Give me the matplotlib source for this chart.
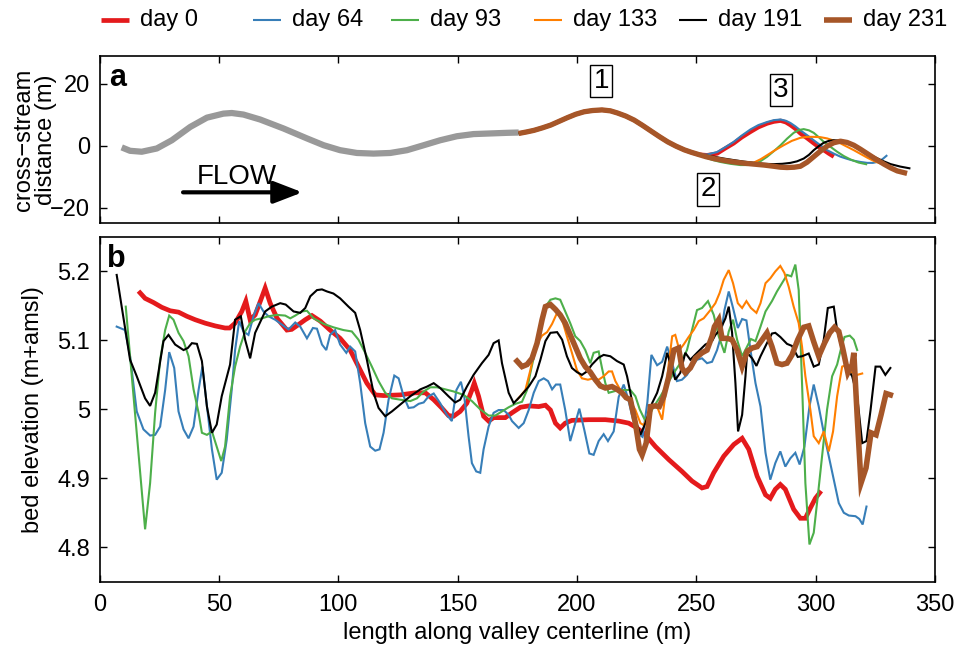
import matplotlib
matplotlib.use("Agg")
import matplotlib.pyplot as plt
from matplotlib.lines import Line2D
from matplotlib.ticker import FuncFormatter

plt.rcParams["font.family"] = ["Liberation Sans", "DejaVu Sans"]

# ---------------------------------------------------------------- data
days = ["day 0", "day 64", "day 93", "day 133", "day 191", "day 231"]
colors = ["#e41a1c", "#377eb8", "#4daf4a", "#ff7f00", "#000000", "#a65628"]

# planform (x along valley, cross-stream offset), upstream reach (unchanged)
upstream_plan = [(9.3, -0.5), (12.8, -1.6), (17.7, -1.9), (24.0, -0.85), (30.3, 1.8),
                 (38.0, 6.1), (45.0, 9.1), (51.9, 10.4), (55.4, 10.6), (60.3, 10.1),
                 (67.3, 8.5), (77.1, 5.6), (86.9, 2.4), (93.9, 0.2), (100.8, -1.4),
                 (107.8, -2.3), (114.8, -2.5), (121.8, -2.3), (128.8, -1.4), (135.8, 0.2),
                 (142.7, 1.8), (149.7, 3.1), (156.7, 3.8), (163.7, 4.0), (170.7, 4.2),
                 (175.6, 4.3)]

# reach shared by all surveys (bend 1)
shared_plan = [(175.6, 4.0), (179.0, 4.5), (182.0, 5.0), (185.5, 5.8), (189.0, 6.7),
               (192.5, 7.9), (196.0, 9.1), (199.5, 10.2), (203.0, 11.0), (206.5, 11.4),
               (210.5, 11.6), (214.0, 11.3), (217.0, 10.6), (220.5, 9.6), (224.0, 8.3),
               (227.5, 6.6), (231.0, 4.8), (234.5, 3.0), (238.0, 1.3), (241.5, -0.1),
               (245.0, -1.3), (248.0, -2.1), (251.0, -2.8)]

plan_day0 = [(254.5, -3.0), (258.7, -2.5), (262.0, -0.9), (265.7, 0.8), (269.0, 2.7),
             (272.7, 4.5), (276.0, 6.0), (279.7, 7.2), (282.5, 7.8), (285.3, 8.1),
             (287.5, 7.6), (289.4, 6.7), (291.5, 5.5), (293.6, 4.0), (296.5, 2.4),
             (299.2, 0.8), (301.5, -0.5), (303.4, -1.4), (305.5, -2.5), (307.6, -3.5)]
plan_day64 = [(254.5, -2.8), (258.7, -2.0), (262.0, -0.5), (265.7, 1.3), (269.0, 3.3),
              (272.7, 5.3), (276.0, 6.7), (279.7, 7.7), (282.5, 8.3), (285.3, 8.5),
              (287.5, 8.1), (289.4, 7.4), (291.5, 6.3), (293.6, 5.0), (296.5, 3.4),
              (299.2, 1.8), (302.0, 0.2), (304.8, -1.4), (307.6, -2.5), (310.4, -3.5),
              (313.2, -4.2), (316.0, -4.8), (318.8, -5.2), (321.6, -5.5), (324.0, -5.5),
              (325.8, -5.2), (328.0, -4.3), (330.0, -3.0)]
plan_day93 = [(254.0, -3.8), (257.0, -4.6), (260.1, -5.2), (264.3, -5.8), (268.5, -6.2),
              (271.3, -6.2), (274.1, -5.9), (277.0, -4.9), (279.7, -3.5), (282.5, -1.7),
              (285.3, 0.2), (288.0, 2.3), (290.8, 4.2), (293.0, 5.1), (295.0, 5.4),
              (297.2, 5.0), (299.2, 4.2), (301.3, 2.8), (303.4, 1.3), (306.2, -0.3),
              (309.0, -1.9), (311.8, -3.3), (314.6, -4.4), (318.0, -5.4), (321.6, -6.0)]
plan_day133 = [(254.0, -3.6), (258.0, -4.4), (262.0, -5.0), (266.0, -5.4), (270.0, -5.7),
               (274.1, -5.4), (277.0, -4.3), (279.7, -3.0), (283.0, -1.4), (286.6, 0.2),
               (290.0, 1.6), (293.6, 2.6), (296.4, 2.9), (299.2, 2.9), (302.0, 2.8),
               (304.8, 2.4), (307.6, 1.7), (310.4, 0.8), (313.2, -0.3), (316.0, -1.4),
               (318.8, -2.6), (321.6, -3.8), (324.4, -4.9), (327.2, -5.7)]
plan_day191 = [(253.5, -3.1), (257.3, -3.5), (261.5, -4.1), (265.7, -4.6), (270.0, -5.1),
               (274.1, -5.5), (278.3, -5.8), (282.5, -5.9), (286.0, -5.8), (289.4, -5.5),
               (292.2, -5.0), (295.0, -4.1), (297.2, -2.9), (299.2, -1.4), (301.3, -0.1),
               (303.4, 1.0), (305.5, 1.6), (307.6, 1.8), (310.4, 1.7), (313.2, 1.0),
               (316.0, 0.0), (318.8, -1.2), (321.6, -2.4), (324.4, -3.5), (327.9, -4.8),
               (331.4, -5.9), (335.5, -6.7), (339.7, -7.3)]
plan_day231 = [(254.0, -3.5), (257.3, -4.1), (261.5, -4.7), (265.7, -5.2), (270.0, -5.6),
               (274.1, -5.9), (278.3, -6.2), (282.5, -6.6), (285.3, -6.9), (288.0, -7.0),
               (291.0, -6.9), (293.6, -6.6), (296.4, -5.3), (299.2, -3.5), (302.0, -1.7),
               (304.8, -0.1), (307.6, 1.0), (310.4, 1.5), (313.2, 1.1), (316.0, 0.2),
               (318.8, -1.1), (321.6, -2.5), (325.0, -4.2), (328.6, -5.9), (331.4, -7.1),
               (334.2, -8.1), (338.3, -8.9)]

# bed elevation profiles (x along valley, elevation m+amsl)
bed_day0 = [(17.0, 5.169), (19.1, 5.161), (22.6, 5.155), (26.1, 5.148), (29.6, 5.143),
            (33.1, 5.141), (36.6, 5.135), (40.1, 5.130), (44.3, 5.125), (48.5, 5.121),
            (52.6, 5.118), (54.5, 5.118), (56.8, 5.125), (59.6, 5.142), (61.3, 5.157),
            (63.1, 5.130), (65.2, 5.137), (67.6, 5.159), (69.4, 5.176), (71.5, 5.154),
            (74.4, 5.132), (78.5, 5.115), (80.5, 5.116), (83.4, 5.123), (86.2, 5.130),
            (89.0, 5.136), (92.5, 5.128), (96.6, 5.115), (100.8, 5.103), (105.0, 5.086),
            (108.5, 5.062), (112.0, 5.038), (115.5, 5.021), (119.0, 5.020), (126.0, 5.021),
            (132.3, 5.024), (136.5, 5.024), (140.0, 5.014), (143.4, 5.002), (146.2, 4.991),
            (148.3, 4.990), (151.1, 4.997), (153.9, 5.009), (156.0, 5.028), (157.0, 5.038),
            (158.8, 5.019), (160.9, 4.990), (163.0, 4.983), (165.1, 4.988), (167.9, 4.988),
            (170.0, 4.988), (172.8, 4.995), (176.3, 5.003), (179.8, 5.005), (184.0, 5.004),
            (186.8, 5.006), (188.9, 4.999), (191.0, 4.980), (193.0, 4.973), (195.1, 4.980),
            (197.9, 4.984), (204.9, 4.985), (211.9, 4.985), (217.5, 4.983), (221.7, 4.980),
            (225.2, 4.973), (228.7, 4.963), (232.9, 4.946), (238.5, 4.927), (244.0, 4.910),
            (248.2, 4.896), (252.4, 4.886), (254.5, 4.888), (257.3, 4.908), (261.5, 4.932),
            (265.7, 4.949), (269.2, 4.958), (272.0, 4.942), (275.5, 4.903), (279.0, 4.876),
            (281.0, 4.871), (283.1, 4.884), (285.2, 4.891), (287.3, 4.884), (290.8, 4.855),
            (293.6, 4.842), (295.7, 4.842), (297.8, 4.857), (299.9, 4.871), (301.7, 4.879)]

bed_day64 = [(7.2, 5.120), (10.7, 5.115), (12.8, 5.077), (15.6, 4.997), (18.4, 4.971),
             (21.2, 4.962), (23.3, 4.963), (25.4, 4.975), (27.5, 5.028), (29.2, 5.083),
             (31.3, 5.060), (33.1, 4.997), (35.2, 4.971), (37.3, 4.958), (39.4, 4.975),
             (41.5, 5.028), (43.1, 5.062), (45.0, 5.005), (47.1, 4.942), (49.1, 4.898),
             (51.2, 4.908), (53.3, 4.956), (55.4, 5.029), (56.8, 5.086), (58.5, 5.128),
             (60.3, 5.113), (62.4, 5.108), (64.5, 5.135), (66.6, 5.154), (68.7, 5.142),
             (70.8, 5.135), (73.6, 5.130), (76.4, 5.123), (79.2, 5.116), (82.0, 5.126),
             (84.1, 5.120), (86.9, 5.103), (89.4, 5.118), (91.1, 5.117), (93.2, 5.094),
             (95.0, 5.086), (96.6, 5.108), (98.7, 5.115), (100.8, 5.094), (103.4, 5.082),
             (105.0, 5.091), (107.1, 5.084), (109.2, 5.038), (111.3, 4.980), (113.4, 4.946),
             (115.5, 4.940), (117.3, 4.942), (119.0, 4.966), (121.1, 5.014), (123.5, 5.049),
             (125.3, 5.045), (127.4, 5.019), (129.5, 5.002), (131.6, 5.003), (133.7, 5.008),
             (135.8, 5.010), (137.9, 5.019), (140.0, 5.023), (142.7, 5.009), (145.5, 4.992),
             (147.6, 4.983), (149.5, 5.028), (151.4, 5.040), (152.8, 5.019), (154.6, 4.961),
             (156.0, 4.922), (157.8, 4.910), (159.5, 4.908), (160.9, 4.942), (163.0, 4.975),
             (165.1, 4.995), (167.2, 4.999), (169.3, 4.999), (171.4, 4.992), (172.8, 4.983),
             (175.6, 4.973), (177.7, 4.980), (179.8, 4.999), (181.9, 5.024), (184.0, 5.041),
             (186.1, 5.045), (187.9, 5.041), (189.6, 5.029), (191.2, 5.036), (193.0, 5.036),
             (195.1, 4.999), (197.2, 4.954), (199.3, 4.980), (201.0, 5.001), (203.1, 4.970),
             (205.2, 4.936), (207.0, 4.934), (209.1, 4.954), (211.2, 4.964), (213.0, 4.954),
             (215.4, 4.968), (217.5, 5.018), (219.6, 5.036), (221.4, 5.016), (223.5, 4.985),
             (225.5, 4.965), (227.5, 4.960), (229.5, 5.010), (231.2, 5.079), (233.6, 5.064),
             (235.7, 5.069), (237.8, 5.091), (239.9, 5.067), (241.9, 5.041), (244.0, 5.043),
             (246.1, 5.050), (248.2, 5.062), (250.3, 5.072), (252.4, 5.074), (254.5, 5.067),
             (256.6, 5.069), (258.7, 5.086), (260.1, 5.103), (261.8, 5.144), (263.6, 5.171),
             (265.4, 5.147), (267.4, 5.118), (269.2, 5.131), (271.0, 5.129), (272.7, 5.086),
             (274.8, 5.038), (276.9, 5.004), (279.0, 4.937), (281.0, 4.898), (283.1, 4.922),
             (285.2, 4.939), (287.3, 4.917), (289.4, 4.929), (291.5, 4.937), (293.3, 4.920),
             (295.3, 4.946), (297.4, 5.004), (299.2, 5.036), (301.3, 5.004), (303.4, 4.966),
             (305.5, 4.932), (307.6, 4.898), (309.7, 4.864), (311.8, 4.850), (313.9, 4.846),
             (316.7, 4.845), (318.3, 4.841), (319.7, 4.833), (321.3, 4.859)]

bed_day93 = [(11.0, 5.149), (19.1, 4.826), (21.2, 4.893), (23.3, 4.995), (25.4, 5.072),
             (27.5, 5.115), (29.2, 5.136), (31.0, 5.130), (33.1, 5.111), (35.2, 5.099),
             (37.3, 5.077), (39.4, 5.029), (41.5, 4.995), (42.9, 4.966), (45.0, 4.963),
             (47.1, 4.968), (49.1, 4.946), (51.0, 4.925), (52.6, 4.946), (54.7, 5.019),
             (56.8, 5.062), (58.9, 5.091), (61.0, 5.113), (63.1, 5.125), (65.2, 5.130),
             (68.0, 5.132), (70.8, 5.135), (74.3, 5.137), (77.8, 5.136), (79.9, 5.132),
             (82.0, 5.136), (84.8, 5.142), (86.9, 5.143), (89.7, 5.132), (93.9, 5.124),
             (98.0, 5.119), (102.2, 5.115), (105.7, 5.113), (108.5, 5.101), (111.3, 5.082),
             (114.1, 5.062), (116.9, 5.041), (119.7, 5.024), (122.5, 5.016), (126.0, 5.014),
             (130.2, 5.012), (133.0, 5.016), (135.8, 5.026), (138.6, 5.032), (141.4, 5.032),
             (144.8, 5.029), (148.3, 5.026), (152.5, 5.021), (156.0, 5.012), (159.5, 5.000),
             (163.0, 4.991), (165.8, 4.991), (168.6, 4.997), (171.4, 5.003), (174.2, 5.008),
             (177.0, 5.011), (179.1, 5.028), (180.5, 5.053), (182.6, 5.086), (184.7, 5.125),
             (186.8, 5.149), (188.9, 5.159), (191.0, 5.161), (193.0, 5.159), (195.1, 5.142),
             (197.2, 5.125), (199.3, 5.106), (201.4, 5.099), (203.5, 5.086), (205.6, 5.067),
             (207.0, 5.082), (209.1, 5.084), (210.5, 5.060), (211.9, 5.038), (213.3, 5.024),
             (215.4, 5.026), (217.5, 5.028), (220.3, 5.028), (222.4, 5.028), (224.5, 5.019),
             (226.3, 5.000), (228.4, 4.985), (230.1, 4.990), (232.2, 5.004), (235.0, 5.019),
             (237.8, 5.036), (240.6, 5.053), (243.3, 5.067), (246.1, 5.086), (248.2, 5.115),
             (250.3, 5.144), (252.4, 5.147), (254.9, 5.157), (257.3, 5.137), (259.4, 5.106),
             (261.8, 5.082), (263.6, 5.113), (265.4, 5.130), (267.1, 5.101), (269.2, 5.077),
             (271.3, 5.091), (272.9, 5.102), (274.8, 5.099), (276.9, 5.120), (279.0, 5.142),
             (281.7, 5.157), (283.8, 5.171), (285.9, 5.183), (288.0, 5.195), (289.8, 5.193),
             (291.5, 5.210), (292.9, 5.173), (294.3, 5.038), (295.7, 4.893), (297.4, 4.804),
             (299.2, 4.821), (300.9, 4.874), (302.7, 4.932), (304.8, 5.000), (306.9, 5.048),
             (309.0, 5.065), (310.7, 5.089), (312.1, 5.105), (314.3, 5.107), (316.0, 5.101),
             (317.4, 5.086)]

bed_day133 = [(175.0, 5.014), (178.4, 5.028), (180.5, 5.057), (182.6, 5.091), (185.4, 5.107),
              (187.5, 5.112), (189.6, 5.124), (191.7, 5.140), (193.8, 5.130), (195.8, 5.106),
              (197.9, 5.082), (200.0, 5.057), (202.1, 5.045), (204.6, 5.043), (207.0, 5.045),
              (209.1, 5.043), (211.2, 5.048), (213.3, 5.055), (214.7, 5.055), (216.1, 5.041),
              (218.2, 5.028), (220.3, 5.019), (222.4, 5.012), (224.5, 4.999), (226.6, 4.980),
              (228.0, 4.977), (229.4, 4.987), (231.5, 5.004), (233.6, 5.004), (235.7, 4.985),
              (237.1, 5.023), (238.5, 5.067), (239.9, 5.106), (241.2, 5.108), (242.9, 5.086),
              (244.7, 5.094), (246.8, 5.105), (248.9, 5.115), (251.0, 5.128), (253.1, 5.132),
              (255.9, 5.144), (258.0, 5.154), (259.8, 5.169), (261.5, 5.188), (263.6, 5.202),
              (265.4, 5.183), (267.4, 5.154), (269.2, 5.147), (271.0, 5.157), (272.9, 5.147),
              (275.2, 5.140), (276.9, 5.154), (279.0, 5.183), (281.0, 5.190), (283.1, 5.200),
              (285.2, 5.208), (286.9, 5.198), (288.7, 5.178), (290.8, 5.149), (292.9, 5.125),
              (294.3, 5.091), (295.7, 5.048), (297.8, 4.999), (299.2, 4.961), (301.3, 4.951),
              (303.4, 4.968), (305.5, 4.939), (307.3, 4.968), (309.0, 5.019), (311.1, 5.062),
              (313.2, 5.065), (315.3, 5.053), (317.4, 5.050), (319.5, 5.052)]

bed_day191 = [(7.2, 5.195), (12.8, 5.072), (15.6, 5.048), (19.1, 5.016), (21.2, 5.005),
              (23.3, 5.024), (26.8, 5.099), (28.9, 5.108), (31.7, 5.094), (35.2, 5.086),
              (37.0, 5.089), (38.7, 5.096), (40.8, 5.095), (42.9, 5.070), (45.0, 5.004),
              (47.1, 4.966), (49.1, 4.978), (51.2, 5.019), (54.7, 5.065), (56.8, 5.130),
              (59.2, 5.135), (61.0, 5.101), (63.1, 5.074), (65.2, 5.111), (69.4, 5.142),
              (72.2, 5.149), (75.7, 5.154), (78.0, 5.152), (81.3, 5.142), (84.1, 5.140),
              (86.2, 5.147), (88.3, 5.164), (91.1, 5.173), (93.2, 5.174), (95.3, 5.171),
              (98.0, 5.168), (100.8, 5.161), (104.3, 5.149), (107.1, 5.140), (109.2, 5.115),
              (112.0, 5.072), (114.8, 5.024), (116.9, 5.002), (119.7, 4.990), (122.5, 4.997),
              (126.0, 5.007), (130.2, 5.019), (134.4, 5.029), (137.2, 5.033), (140.0, 5.038),
              (142.7, 5.031), (146.2, 5.019), (149.0, 5.010), (151.1, 5.014), (153.9, 5.033),
              (156.7, 5.050), (160.2, 5.067), (163.0, 5.079), (165.1, 5.096), (167.2, 5.100),
              (168.6, 5.067), (171.4, 5.024), (173.5, 5.009), (176.3, 5.019), (179.8, 5.033),
              (182.6, 5.048), (184.7, 5.072), (186.8, 5.099), (188.9, 5.111), (191.7, 5.112),
              (193.8, 5.101), (195.8, 5.077), (197.9, 5.060), (200.0, 5.054), (202.1, 5.050),
              (204.2, 5.055), (206.3, 5.065), (209.1, 5.075), (211.2, 5.079), (214.0, 5.077),
              (216.8, 5.070), (219.6, 5.065), (221.0, 5.048), (222.4, 5.024), (224.5, 4.985),
              (226.6, 4.963), (228.7, 4.980), (231.5, 5.009), (233.6, 5.024), (235.7, 5.048),
              (237.8, 5.082), (239.9, 5.058), (241.2, 5.043), (243.3, 5.053), (245.4, 5.082),
              (247.5, 5.072), (250.3, 5.082), (253.8, 5.094), (256.6, 5.099), (258.0, 5.108),
              (260.1, 5.116), (262.2, 5.132), (263.6, 5.149), (265.0, 5.111), (266.4, 5.038),
              (267.5, 4.968), (269.2, 4.992), (270.6, 5.048), (271.3, 5.082), (273.4, 5.074),
              (275.2, 5.063), (276.9, 5.077), (279.6, 5.096), (281.7, 5.110), (283.1, 5.111),
              (285.2, 5.105), (288.0, 5.095), (290.1, 5.092), (292.5, 5.076), (294.3, 5.077),
              (297.1, 5.081), (299.2, 5.062), (301.3, 5.065), (303.4, 5.101), (305.1, 5.147),
              (307.6, 5.149), (309.0, 5.115), (311.1, 5.086), (313.2, 5.060), (315.3, 5.048),
              (317.4, 5.019), (319.5, 4.951), (321.3, 4.954), (323.0, 4.999), (325.1, 5.062),
              (327.1, 5.062), (329.2, 5.050), (331.3, 5.060)]

bed_day231 = [(174.9, 5.070), (177.0, 5.062), (179.1, 5.065), (181.2, 5.074), (183.3, 5.096),
              (185.4, 5.130), (186.8, 5.149), (188.9, 5.152), (191.0, 5.145), (193.0, 5.137),
              (195.1, 5.125), (197.2, 5.108), (199.3, 5.091), (201.4, 5.074), (203.5, 5.062),
              (205.6, 5.054), (207.7, 5.043), (209.8, 5.034), (211.9, 5.031), (214.7, 5.033),
              (216.8, 5.029), (218.9, 5.024), (220.6, 5.017), (222.4, 5.014), (224.5, 4.980),
              (226.2, 4.942), (227.3, 4.934), (229.0, 4.951), (230.8, 5.004), (232.9, 5.005),
              (234.5, 5.004), (236.4, 5.019), (238.5, 5.048), (240.6, 5.086), (242.6, 5.089),
              (244.0, 5.060), (245.4, 5.053), (247.5, 5.060), (249.6, 5.074), (252.4, 5.082),
              (254.5, 5.086), (256.6, 5.106), (257.6, 5.120), (259.4, 5.130), (260.8, 5.103),
              (262.9, 5.103), (265.0, 5.101), (267.1, 5.086), (269.2, 5.062), (271.3, 5.084),
              (273.4, 5.089), (275.5, 5.091), (277.6, 5.101), (279.6, 5.111), (281.7, 5.091),
              (283.8, 5.067), (285.9, 5.065), (288.0, 5.067), (290.1, 5.079), (292.5, 5.101),
              (295.0, 5.119), (297.1, 5.121), (299.2, 5.098), (301.3, 5.077), (303.7, 5.096),
              (305.9, 5.111), (307.9, 5.119), (309.7, 5.113), (311.5, 5.086), (313.5, 5.053),
              (315.3, 5.065), (316.0, 5.082), (317.4, 4.990), (319.0, 4.893), (321.1, 4.915),
              (323.2, 4.966), (325.3, 4.963), (327.4, 4.992), (329.5, 5.023), (331.3, 5.021)]

plan_series = [plan_day0, plan_day64, plan_day93, plan_day133, plan_day191, plan_day231]
bed_series = [bed_day0, bed_day64, bed_day93, bed_day133, bed_day191, bed_day231]
plan_widths = [3.0, 1.5, 1.5, 1.5, 1.5, 3.8]
bed_widths = [3.4, 1.5, 1.5, 1.5, 1.5, 4.0]

# ---------------------------------------------------------------- figure
W, H = 963, 647
fig = plt.figure(figsize=(W / 100, H / 100), dpi=100)
left, right = 99.5, 935.0
ax_a = fig.add_axes([left / W, 1 - 223.3 / H, (right - left) / W, (223.3 - 56) / H])
ax_b = fig.add_axes([left / W, 1 - 581.7 / H, (right - left) / W, (581.7 - 237) / H])

FS = 17

def unzip(pairs):
    return [p[0] for p in pairs], [p[1] for p in pairs]

# panel a: planform
ux, uy = unzip(upstream_plan)
ax_a.plot(ux, uy, color="#999999", lw=4.5, solid_capstyle="butt", zorder=2)
for pts, c, w in zip(plan_series, colors, plan_widths):
    x, y = unzip(shared_plan + pts)
    ax_a.plot(x, y, color=c, lw=w, solid_capstyle="butt", zorder=3)

ax_a.set_xlim(0, 350)
ax_a.set_ylim(-25, 29)
ax_a.set_yticks([-20, 0, 20])
ax_a.set_xticks(range(0, 351, 50))
ax_a.tick_params(labelbottom=False)

box = dict(boxstyle="square,pad=0.12", fc="white", ec="black", lw=1.0)
for label, (bx, by) in zip(["1", "2", "3"], [(210.2, 20.9), (255.1, -14.0), (285.4, 18.0)]):
    ax_a.text(bx, by, label, fontsize=20, ha="center", va="center", bbox=box, zorder=5)

ax_a.text(57.7, -10.1, "FLOW", fontsize=20, ha="center", va="center")
ax_a.annotate("", xy=(85.0, -15.0), xytext=(35.0, -15.0),
              arrowprops=dict(arrowstyle="-|>,head_length=0.7,head_width=0.27",
                              lw=3.0, color="black", mutation_scale=25,
                              shrinkA=0, shrinkB=0))
ax_a.text(0.011, 0.822, "a", transform=ax_a.transAxes, fontsize=22,
          fontweight="bold", va="baseline", ha="left")
ax_a.set_ylabel("cross\u2212stream\ndistance (m)", fontsize=FS, linespacing=1.0)
ax_a.yaxis.set_label_coords(-0.051, 0.5)

# panel b: bed elevation
for pts, c, w in zip(bed_series, colors, bed_widths):
    x, y = unzip(pts)
    ax_b.plot(x, y, color=c, lw=w, solid_joinstyle="miter")

ax_b.set_xlim(0, 350)
ax_b.set_ylim(4.75, 5.25)
ax_b.set_xticks(range(0, 351, 50))
ax_b.set_yticks([4.8, 4.9, 5.0, 5.1, 5.2])
ax_b.yaxis.set_major_formatter(FuncFormatter(lambda v, p: f"{v:g}"))
ax_b.set_xlabel("length along valley centerline (m)", fontsize=FS, labelpad=4)
ax_b.set_ylabel("bed elevation (m+amsl)", fontsize=FS)
ax_b.yaxis.set_label_coords(-0.066, 0.5)
ax_b.text(0.009, 0.914, "b", transform=ax_b.transAxes, fontsize=22,
          fontweight="bold", va="baseline", ha="left")

for ax in (ax_a, ax_b):
    ax.tick_params(direction="in", length=5, width=1.0, top=True, right=True,
                   labelsize=FS)
    ax.tick_params(axis="x", pad=9)
    ax.tick_params(axis="y", pad=7)
    for s in ax.spines.values():
        s.set_linewidth(1.2)

# legend row across the top
leg_y = 1 - 20 / H
leg_starts = [101, 253, 391, 534, 679, 824]
for x0, c, w, lab in zip(leg_starts, colors, bed_widths, days):
    fig.add_artist(Line2D([x0 / W, (x0 + 28) / W], [leg_y, leg_y], color=c,
                          lw=w, solid_capstyle="butt", transform=fig.transFigure))
    fig.text((x0 + 39) / W, leg_y, lab, fontsize=FS, va="center", ha="left")

fig.savefig("out.png", dpi=100)
